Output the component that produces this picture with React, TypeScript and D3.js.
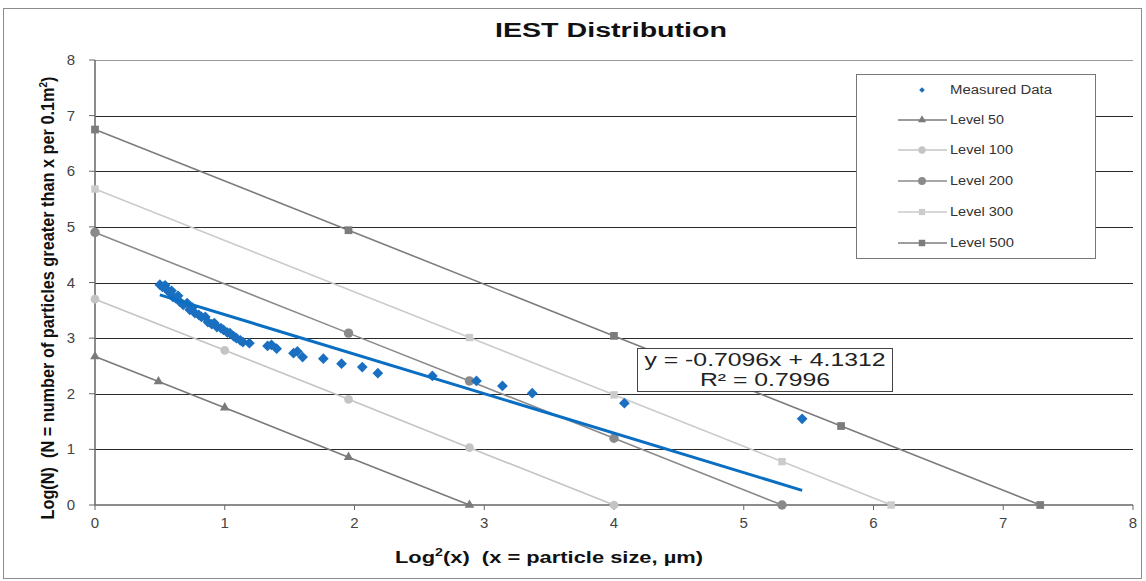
import * as d3 from "d3";

const title = "IEST Distribution";
const xTicks = [0, 1, 2, 3, 4, 5, 6, 7, 8];
const yTicks = [0, 1, 2, 3, 4, 5, 6, 7, 8];

// measured data (log²x, logN)
const measuredX = [0.5, 0.52, 0.54, 0.555, 0.57, 0.59, 0.6, 0.62, 0.64, 0.655, 0.68, 0.71, 0.73, 0.75, 0.77, 0.8, 0.82, 0.85, 0.87, 0.9, 0.92, 0.94, 0.97, 0.99, 1.02, 1.04, 1.07, 1.09, 1.12, 1.14, 1.19, 1.33, 1.36, 1.4, 1.53, 1.56, 1.6, 1.76, 1.9, 2.06, 2.18, 2.6, 2.94, 3.14, 3.37, 4.08, 5.45];
const measuredY = [3.96, 3.92, 3.95, 3.87, 3.83, 3.85, 3.74, 3.72, 3.76, 3.65, 3.6, 3.63, 3.51, 3.55, 3.45, 3.42, 3.38, 3.38, 3.29, 3.25, 3.27, 3.2, 3.18, 3.15, 3.1, 3.09, 3.03, 3.0, 2.96, 2.93, 2.91, 2.86, 2.88, 2.81, 2.73, 2.76, 2.66, 2.63, 2.54, 2.48, 2.37, 2.32, 2.23, 2.14, 2.01, 1.83, 1.55];

const trendSlope = -0.7096;
const trendIntercept = 4.1312;
const trendR2 = 0.7996;

const levelNames = ["Level 50", "Level 100", "Level 200", "Level 300", "Level 500"];
const level50X = [0, 0.489, 1, 1.954, 2.886];
const level50Y = [2.67, 2.22, 1.75, 0.86, 0];
const level100X = [0, 1, 1.954, 2.886, 4];
const level100Y = [3.7, 2.78, 1.9, 1.03, 0];
const level200X = [0, 1.954, 2.886, 4, 5.295];
const level200Y = [4.9, 3.09, 2.23, 1.2, 0];
const level300X = [0, 2.886, 4, 5.295, 6.136];
const level300Y = [5.68, 3.01, 1.98, 0.78, 0];
const level500X = [0, 1.954, 4, 5.75, 7.285];
const level500Y = [6.75, 4.94, 3.04, 1.42, 0];

const levelXs = [level50X, level100X, level200X, level300X, level500X];
const levelYs = [level50Y, level100Y, level200Y, level300Y, level500Y];
const levelColors = ["#7a7a7a", "#c4c4c4", "#8a8a8a", "#cbcbcb", "#7c7c7c"];
const levelShapes = [d3.symbolTriangle, d3.symbolCircle, d3.symbolCircle, d3.symbolSquare, d3.symbolSquare];
const levelSizes = [40, 60, 70, 55, 60];

const W = 1146;
const H = 581;
const margin = { left: 95, right: 13, top: 60, bottom: 76 };

export default function App() {
  const x = d3.scaleLinear().domain([0, 8]).range([margin.left, W - margin.right]);
  const y = d3.scaleLinear().domain([0, 8]).range([H - margin.bottom, margin.top]);

  const line = d3
    .line<[number, number]>()
    .x(d => x(d[0]))
    .y(d => y(d[1]));

  // excel diamond = square turned 45°
  const diamond = d3.symbol().type(d3.symbolSquare).size(58)();
  const trendX0 = d3.min(measuredX) as number;
  const trendX1 = d3.max(measuredX) as number;
  const trendPts: [number, number][] = [
    [trendX0, trendSlope * trendX0 + trendIntercept],
    [trendX1, trendSlope * trendX1 + trendIntercept],
  ];

  const font = "'Liberation Sans', Arial, sans-serif";
  const narrow = "'Liberation Sans Narrow', 'Liberation Sans', Arial, sans-serif";

  const legendX = 856;
  const legendY = 74;
  const legendRows = [90, 120, 150, 181, 212, 243];
  const legendTextLen = [102, 54, 63, 63, 63, 64];

  return (
    <svg
      width={W}
      height={H}
      style={{ position: "absolute", left: 0, top: 0, background: "#fff" }}
      fontFamily={font}
    >
      <rect x={3.5} y={8.5} width={1138} height={570} fill="#fff" stroke="#8c8c8c" />
      <text x={611} y={37} textAnchor="middle" fontSize={20} fontWeight="bold" fill="#111" textLength={232} lengthAdjust="spacingAndGlyphs">
        {title}
      </text>

      {/* grid */}
      {yTicks.filter(t => t > 0).map(t => (
        <line
          key={"g" + t}
          x1={x(0)}
          x2={x(8)}
          y1={Math.round(y(t)) + 0.5}
          y2={Math.round(y(t)) + 0.5}
          stroke={t === 8 ? "#9a9a9a" : "#2a2a2a"}
          strokeWidth={1}
        />
      ))}

      {/* axes */}
      <line x1={x(0)} x2={x(0)} y1={y(8)} y2={y(0)} stroke="#666" strokeWidth={1.5} />
      <line x1={x(0)} x2={x(8)} y1={y(0)} y2={y(0)} stroke="#666" strokeWidth={1.5} />
      {yTicks.map(t => (
        <g key={"yt" + t}>
          <line x1={x(0) - 6} x2={x(0)} y1={y(t)} y2={y(t)} stroke="#666" />
          <text x={x(0) - 20} y={y(t) + 5} textAnchor="end" fontSize={15} fill="#444">
            {t}
          </text>
        </g>
      ))}
      {xTicks.map(t => (
        <g key={"xt" + t}>
          <line x1={x(t)} x2={x(t)} y1={y(0)} y2={y(0) + 5} stroke="#666" />
          <text x={x(t)} y={y(0) + 23} textAnchor="middle" fontSize={15} fill="#444">
            {t}
          </text>
        </g>
      ))}

      {/* level lines */}
      {levelNames.map((name, i) => {
        const pts = levelXs[i].map((v, j) => [v, levelYs[i][j]] as [number, number]);
        const sym = d3.symbol().type(levelShapes[i]).size(levelSizes[i])();
        return (
          <g key={name}>
            <path d={line(pts) ?? ""} fill="none" stroke={levelColors[i]} strokeWidth={1.6} />
            {pts.map((p, j) => (
              <path key={j} d={sym ?? ""} transform={`translate(${x(p[0])},${y(p[1])})`} fill={levelColors[i]} />
            ))}
          </g>
        );
      })}

      {/* measured */}
      {measuredX.map((v, i) => (
        <path key={"m" + i} d={diamond ?? ""} transform={`translate(${x(v)},${y(measuredY[i])}) rotate(45)`} fill="#1a6fc0" />
      ))}
      <path d={line(trendPts) ?? ""} fill="none" stroke="#0a6ec2" strokeWidth={3} />

      {/* equation */}
      <rect x={637.5} y={348.5} width={255} height={43} fill="#fff" stroke="#444" />
      <text x={765} y={366} textAnchor="middle" fontSize={18} fill="#222" textLength={241} lengthAdjust="spacingAndGlyphs">
        {`y = ${trendSlope}x + ${trendIntercept}`}
      </text>
      <text x={765} y={386} textAnchor="middle" fontSize={18} fill="#222" textLength={130} lengthAdjust="spacingAndGlyphs">
        {`R² = ${trendR2}`}
      </text>

      {/* legend */}
      <rect x={legendX + 0.5} y={legendY + 0.5} width={239} height={184} fill="#fff" stroke="#777" />
      <path d={d3.symbol().type(d3.symbolSquare).size(16)() ?? ""} transform={`translate(922,${legendRows[0]}) rotate(45)`} fill="#1a6fc0" />
      <text x={950} y={legendRows[0] + 4} fontSize={12.5} fill="#333" textLength={legendTextLen[0]} lengthAdjust="spacingAndGlyphs">Measured Data</text>
      {levelNames.map((name, i) => {
        const ry = legendRows[i + 1];
        const sym = d3.symbol().type(levelShapes[i]).size(levelSizes[i] * 0.7)();
        return (
          <g key={"lg" + name}>
            <line x1={898} x2={947} y1={ry} y2={ry} stroke={levelColors[i]} strokeWidth={1.6} />
            <path d={sym ?? ""} transform={`translate(922,${ry})`} fill={levelColors[i]} />
            <text x={950} y={ry + 4} fontSize={12.5} fill="#333" textLength={legendTextLen[i + 1]} lengthAdjust="spacingAndGlyphs">{name}</text>
          </g>
        );
      })}

      {/* axis titles */}
      <text
        x={395}
        y={563}
        fontSize={17}
        fontWeight="bold"
        fill="#111"
        textLength={308}
        lengthAdjust="spacingAndGlyphs"
        style={{ whiteSpace: "pre" }}
      >
        Log<tspan dy={-7} fontSize={11}>2</tspan><tspan dy={7}>{"(x)  (x = particle size, µm)"}</tspan>
      </text>
      <text
        transform="translate(54,298) rotate(-90)"
        textAnchor="middle"
        fontSize={18}
        fontWeight="bold"
        fontFamily={narrow}
        fill="#111"
        textLength={443}
        lengthAdjust="spacingAndGlyphs"
        style={{ whiteSpace: "pre" }}
      >
        {"Log(N)  (N = number of particles greater than x per 0.1m"}<tspan dy={-7} fontSize={11}>2</tspan><tspan dy={7}>)</tspan>
      </text>
    </svg>
  );
}
